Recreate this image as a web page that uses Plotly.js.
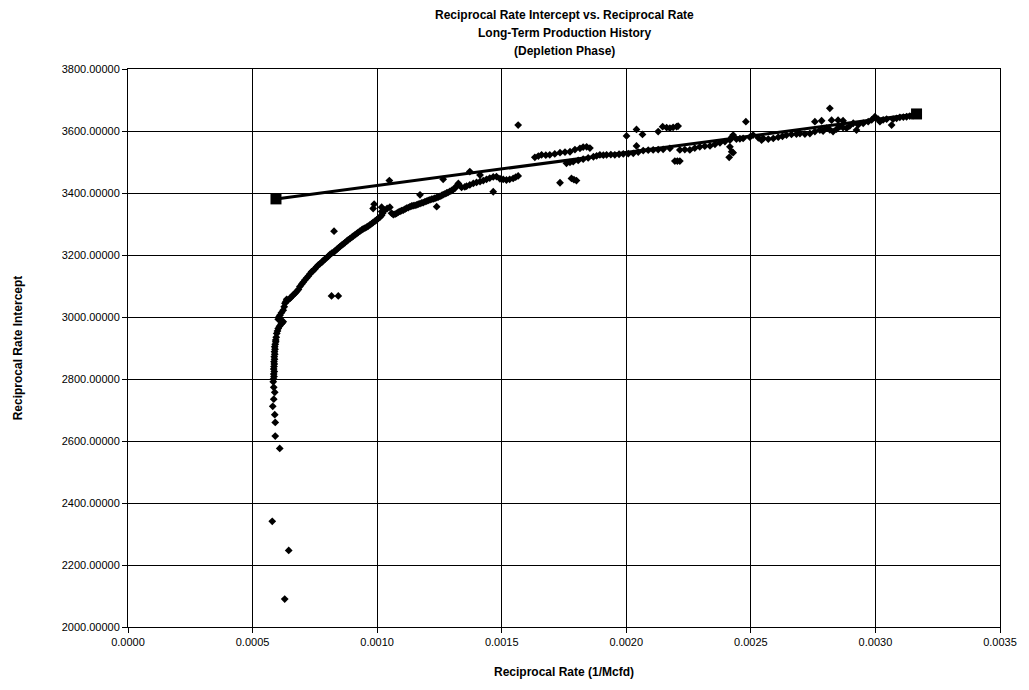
<!DOCTYPE html>
<html>
<head>
<meta charset="utf-8">
<script src="https://cdn.plot.ly/plotly-3.0.1.min.js"></script>
<style>html,body{margin:0;padding:0;background:#fff;}#chart{width:1029px;height:690px;}</style>
</head>
<body>
<div id="chart"></div>
<script>
// Observed data: reciprocal rate (1/Mcfd) vs reciprocal rate intercept
var obsRate = [
0.000579,0.000645,0.000629,0.000609,0.000591,0.000591,0.000589,0.000581,0.000585,0.000589,0.000585,0.000583,
0.000584,0.000586,0.000585,0.000587,0.000585,0.000586,0.000587,0.000586,0.000588,0.000587,0.000589,0.000588,0.000590,0.000589,0.000591,0.000593,
0.000593,0.000595,0.000597,0.000600,0.000603,0.000608,0.000614,0.000619,0.000623,0.000616,0.000608,0.000603,0.000606,0.000610,0.000616,0.000623,0.000627,0.000630,0.000634,0.000637,0.000643,0.000650,0.000657,0.000663,0.000670,0.000677,0.000684,0.000690,0.000697,0.000703,0.000710,0.000717,0.000724,0.000730,0.000737,0.000744,0.000750,0.000757,0.000764,0.000771,0.000778,0.000784,0.000790,0.000797,0.000804,0.000811,0.000818,0.000825,0.000831,0.000838,0.000845,0.000852,0.000858,0.000865,0.000871,0.000878,0.000884,0.000891,0.000898,0.000904,0.000911,0.000918,0.000924,0.000931,0.000938,0.000944,0.000951,0.000958,0.000964,0.000971,0.000978,0.000984,0.000991,0.000998,0.001004,0.001011,0.001018,0.001022,0.001025,
0.000827,0.000817,0.000844,0.000988,0.001018,0.000984,0.001049,
0.001018,0.001030,0.001040,0.001051,0.001058,0.001065,0.001072,0.001078,0.001085,0.001092,0.001098,0.001105,0.001112,0.001118,0.001125,0.001132,0.001139,0.001145,0.001152,0.001159,0.001165,0.001172,0.001179,0.001185,0.001192,0.001199,0.001205,0.001212,0.001219,0.001225,0.001232,0.001239,0.001245,0.001252,0.001259,0.001265,0.001272,0.001279,0.001285,0.001292,0.001299,0.001305,0.001312,0.001318,0.001326,
0.001339,0.001352,0.001359,0.001372,0.001386,0.001399,0.001413,0.001426,0.001439,0.001452,0.001466,0.001479,0.001493,0.001506,0.001519,0.001532,0.001546,0.001556,0.001566,
0.001265,0.001372,0.001413,0.001172,0.001239,0.001466,0.001566,
0.001633,0.001647,0.001660,0.001677,0.001693,0.001713,0.001734,0.001754,0.001774,0.001794,0.001814,0.001827,0.001841,0.001854,
0.001760,0.001774,0.001787,0.001807,0.001827,0.001847,0.001868,0.001881,0.001894,0.001908,0.001921,0.001938,0.001954,0.001971,0.001988,0.002008,0.002028,0.002048,0.002068,0.002088,0.002108,0.002128,0.002148,0.002175,
0.001734,0.001780,0.001800,0.001790,
0.002001,0.002041,0.002065,0.002041,0.002128,0.002146,0.002162,0.002175,0.002188,0.002202,0.002208,
0.002195,0.002215,0.002205,
0.002215,0.002235,0.002255,0.002275,0.002295,0.002315,0.002336,0.002356,0.002376,0.002396,0.002416,0.002429,0.002423,0.002416,0.002429,0.002413,0.002423,0.002442,0.002456,0.002469,0.002480,0.002496,0.002509,0.002530,0.002550,0.002543,0.002570,0.002590,0.002610,0.002627,0.002643,0.002663,0.002683,0.002697,0.002717,0.002737,
0.002757,0.002784,0.002817,0.002824,0.002850,0.002870,0.002757,0.002777,0.002790,0.002804,0.002817,0.002830,0.002844,0.002857,0.002870,0.002884,0.002897,0.002911,0.002924,0.002931,0.002951,0.002971,0.002985,0.002998,0.003011,0.003018,0.003031,0.003045,0.003065,0.003071,0.003085,0.003098,0.003112,0.003125,0.003138,0.003151
];
var obsIntercept = [
2341,2247,2090,2576,2616,2660,2685,2712,2735,2757,2773,2791,
2800,2808,2816,2824,2832,2840,2848,2856,2864,2872,2880,2888,2896,2904,2912,2920,
2926,2935,2947,2955,2963,2970,2977,2981,2985,2988,2990,2993,3000,3006,3014,3022,3033,3044,3050,3057,3055,3060,3066,3071,3076,3082,3089,3098,3106,3112,3119,3126,3132,3139,3146,3150,3155,3162,3168,3172,3177,3182,3186,3191,3196,3202,3206,3209,3213,3218,3223,3228,3232,3236,3240,3245,3249,3253,3257,3261,3265,3269,3273,3277,3281,3284,3287,3290,3293,3297,3301,3305,3309,3313,3318,3322,3328,3335,3340,
3277,3068,3068,3364,3354,3350,3440,
3340,3345,3350,3354,3335,3330,3332,3334,3338,3341,3343,3345,3348,3351,3353,3356,3358,3359,3360,3362,3364,3366,3368,3369,3372,3374,3376,3378,3380,3381,3383,3385,3387,3389,3392,3395,3397,3400,3402,3405,3408,3411,3415,3422,3431,
3418,3420,3422,3426,3431,3434,3437,3440,3444,3448,3452,3453,3446,3444,3442,3444,3447,3451,3455,
3444,3469,3458,3394,3356,3404,3619,
3515,3519,3523,3522,3523,3526,3530,3532,3533,3540,3544,3548,3549,3545,
3496,3499,3501,3505,3509,3513,3517,3520,3523,3522,3523,3524,3523,3525,3526,3527,3528,3532,3537,3538,3539,3540,3541,3544,
3433,3447,3440,3443,
3584,3605,3589,3552,3598,3614,3611,3609,3612,3614,3616,
3503,3503,3503,
3539,3540,3539,3545,3549,3551,3552,3557,3562,3566,3571,3587,3580,3549,3530,3515,3533,3574,3575,3576,3630,3580,3587,3578,3576,3571,3574,3576,3580,3583,3587,3589,3590,3592,3590,3592,
3630,3633,3673,3635,3635,3633,3598,3603,3600,3609,3604,3598,3606,3614,3611,3609,3617,3625,3603,3620,3625,3630,3636,3646,3638,3630,3636,3638,3619,3638,3641,3644,3645,3646,3648,3650
];
// Straight-line fit end points
var fitRate = [0.000594, 0.003165];
var fitIntercept = [3381, 3655];

var titleLines = ['Reciprocal Rate Intercept vs. Reciprocal Rate', 'Long-Term Production History', '(Depletion Phase)'];
var xTitle = 'Reciprocal Rate (1/Mcfd)';
var yTitle = 'Reciprocal Rate Intercept';

var font = 'Liberation Sans, Arial, sans-serif';

var traces = [
  {x: obsRate, y: obsIntercept, type: 'scatter', mode: 'markers',
   marker: {symbol: 'diamond', size: 6, color: '#000'}, hoverinfo: 'x+y'},
  {x: fitRate, y: fitIntercept, type: 'scatter', mode: 'lines+markers',
   line: {color: '#000', width: 3}, marker: {symbol: 'square', size: 11, color: '#000'}}
];

// Title lines as annotations, positioned in paper coords above the plot area
var titleY = [1.0968, 1.0645, 1.0323];
var annotations = titleLines.map(function (t, i) {
  return {text: '<b>' + t + '</b>', xref: 'paper', yref: 'paper', x: 0.5, y: titleY[i],
          xanchor: 'center', yanchor: 'middle', showarrow: false,
          font: {family: font, size: 12, color: '#000'}};
});

var layout = {
  width: 1029, height: 690,
  margin: {l: 128, r: 29, t: 69, b: 63},
  paper_bgcolor: '#fff', plot_bgcolor: '#fff',
  showlegend: false,
  font: {family: font, size: 11, color: '#000'},
  annotations: annotations,
  xaxis: {range: [0, 0.0035], dtick: 0.0005, tick0: 0, tickformat: '.4f',
          showgrid: true, gridcolor: '#000', gridwidth: 1, zeroline: false,
          showline: true, linecolor: '#000', linewidth: 1, mirror: true,
          ticks: 'outside', ticklen: 5, tickcolor: '#000',
          tickfont: {family: font, size: 11, color: '#000'},
          title: {text: xTitle, font: {family: font, size: 12, weight: 'bold', color: '#000'}, standoff: 20}},
  yaxis: {range: [2000, 3800], dtick: 200, tick0: 2000, tickformat: '.5f',
          showgrid: true, gridcolor: '#000', gridwidth: 1, zeroline: false,
          showline: true, linecolor: '#000', linewidth: 1, mirror: true,
          ticks: 'outside', ticklen: 5, tickcolor: '#000',
          tickfont: {family: font, size: 11, color: '#000'},
          title: {text: yTitle, font: {family: font, size: 12, weight: 'bold', color: '#000'}, standoff: 36}}
};

Plotly.newPlot('chart', traces, layout, {displayModeBar: false, staticPlot: true});
</script>
</body>
</html>
